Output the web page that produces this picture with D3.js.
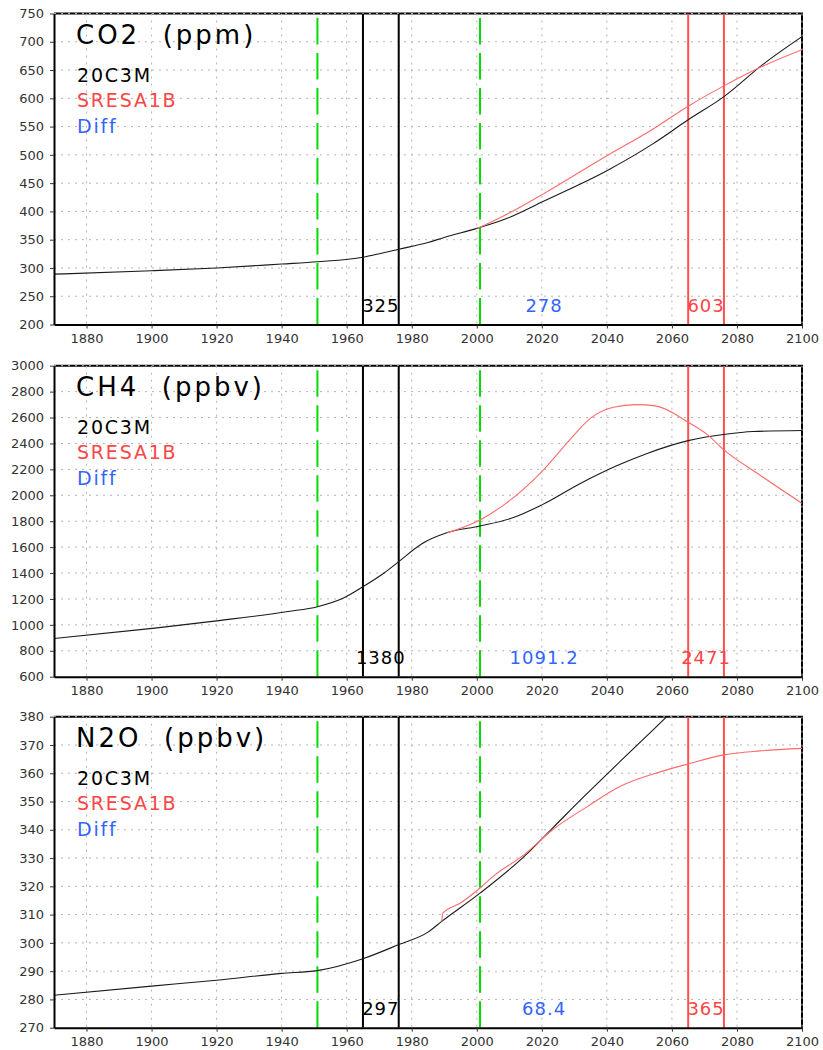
<!DOCTYPE html>
<html>
<head>
<meta charset="utf-8">
<script src="https://cdn.jsdelivr.net/npm/d3@7"></script>
<style>
  body { margin: 0; background: #fff; }
  svg { display: block; font-family: "DejaVu Sans", sans-serif; }
</style>
</head>
<body>
<script>
// ---------------- data ----------------
const xTickYears = [1880, 1900, 1920, 1940, 1960, 1980, 2000, 2020, 2040, 2060, 2080, 2100];

const panelTitles = ["CO2  (ppm)", "CH4  (ppbv)", "N2O  (ppbv)"];
const legendLabels = ["20C3M", "SRESA1B", "Diff"];

const co2Ticks = [200, 250, 300, 350, 400, 450, 500, 550, 600, 650, 700, 750];
const ch4Ticks = [600, 800, 1000, 1200, 1400, 1600, 1800, 2000, 2200, 2400, 2600, 2800, 3000];
const n2oTicks = [270, 280, 290, 300, 310, 320, 330, 340, 350, 360, 370, 380];

// 20C3M (black) series
const co2Years20C = [1870, 1900, 1920, 1940, 1951, 1965, 1970, 1976, 1985, 1990, 2000, 2009, 2020.5, 2040, 2054, 2065, 2076, 2088, 2100];
const co2Vals20C  = [289, 295, 300, 307, 311, 319, 325, 333, 345, 354, 370, 387, 418, 472, 519, 562, 603, 660, 709];
// SRESA1B (red) series
const co2YearsA1B = [2000, 2004, 2010, 2020.5, 2040, 2054, 2065, 2076, 2088, 2100];
const co2ValsA1B  = [370, 380, 397, 431, 498.5, 545, 586, 622, 657, 686];

const ch4Years20C = [1870, 1901, 1920, 1942, 1951, 1959, 1965, 1971.5, 1976, 1983, 1991, 2001, 2011.5, 2020, 2032, 2043, 2052.6, 2065, 2076.4, 2085, 2100];
const ch4Vals20C  = [895, 975, 1031, 1103, 1140, 1207, 1294, 1400, 1488, 1624, 1712, 1763, 1830, 1926, 2093, 2227, 2325, 2422, 2471, 2492, 2500];
const ch4YearsA1B = [1991, 2001, 2009, 2020, 2029, 2035, 2042, 2049, 2055, 2065, 2071, 2076, 2087, 2100];
const ch4ValsA1B  = [1712, 1810, 1938, 2183, 2440, 2595, 2680, 2700, 2690, 2564, 2466, 2350, 2157, 1938];

const n2oYears20C = [1870, 1900, 1920, 1940, 1951, 1965, 1976, 1985, 1989.2, 2001, 2014.6, 2023.3, 2033, 2044, 2054.7, 2075, 2100];
const n2oVals20C  = [281.5, 284.7, 286.8, 289.2, 290.2, 294.4, 299.4, 303.8, 307.6, 317.6, 330.6, 340.6, 351.8, 364.1, 375.9, 398, 420];
const n2oYearsA1B = [1989.2, 1989.6, 1995, 2001, 2005, 2014.6, 2023.3, 2034, 2044, 2055, 2065, 2076, 2087, 2100];
const n2oValsA1B  = [307.6, 310.6, 314.1, 319.4, 323.5, 331.2, 340, 348.2, 355.3, 360, 363.3, 366.5, 367.9, 368.8];

// period markers (years)
const greenMarkers = [1951, 2001];
const histPeriod = [1965, 1976];
const futurePeriod = [2065, 2076];
const diffLabelYear = 2020.7;

// annotation values
const histMeans = ["325", "1380", "297"];
const diffVals = ["278", "1091.2", "68.4"];
const futureMeans = ["603", "2471", "365"];

// ---------------- drawing ----------------
const W = 823, H = 1050;
const BLACK = "#000", RED = "#fa4646", REDLINE = "#ff6a6a", BLUE = "#3264ff", GREEN = "#00dc00";

const panels = [
  { title: panelTitles[0], ticks: co2Ticks, h: [co2Years20C, co2Vals20C], f: [co2YearsA1B, co2ValsA1B], top: 13.5 },
  { title: panelTitles[1], ticks: ch4Ticks, h: [ch4Years20C, ch4Vals20C], f: [ch4YearsA1B, ch4ValsA1B], top: 365.7 },
  { title: panelTitles[2], ticks: n2oTicks, h: [n2oYears20C, n2oVals20C], f: [n2oYearsA1B, n2oValsA1B], top: 716.7 }
];
const PH = 311;

const svg = d3.select("body").append("svg").attr("width", W).attr("height", H);
const x = d3.scaleLinear().domain([1870, 2100]).range([54, 802]);

panels.forEach((p, i) => {
  const top = p.top, bottom = top + PH;
  const y = d3.scaleLinear().domain([p.ticks[0], p.ticks[p.ticks.length - 1]]).range([bottom, top]);
  const g = svg.append("g");

  const clipId = "clip" + i;
  g.append("clipPath").attr("id", clipId).append("rect")
    .attr("x", x.range()[0]).attr("y", top).attr("width", x.range()[1] - x.range()[0]).attr("height", PH);

  // top/right frame
  g.append("path").attr("d", `M${x.range()[0]},${top}H${x.range()[1]}V${bottom}`)
    .attr("fill", "none").attr("stroke", "#000").attr("stroke-width", 2);

  // grid
  const grid = g.append("g").attr("stroke", "#b4b4b4").attr("stroke-width", 1).attr("stroke-dasharray", "2,5");
  grid.selectAll("line.v").data(xTickYears).join("line")
    .attr("x1", d => x(d)).attr("x2", d => x(d)).attr("y1", top).attr("y2", bottom);
  grid.selectAll("line.h").data(p.ticks.slice(1)).join("line")
    .attr("x1", x.range()[0]).attr("x2", x.range()[1]).attr("y1", d => y(d)).attr("y2", d => y(d));

  // vertical markers
  const mk = g.append("g").attr("clip-path", `url(#${clipId})`);
  mk.selectAll("line.g").data(greenMarkers).join("line")
    .attr("x1", d => x(d)).attr("x2", d => x(d)).attr("y1", top).attr("y2", bottom)
    .attr("stroke", GREEN).attr("stroke-width", 2)
    .attr("stroke-dasharray", "26.5,8.5").attr("stroke-dashoffset", 30.5);
  mk.selectAll("line.b").data(histPeriod).join("line")
    .attr("x1", d => x(d)).attr("x2", d => x(d)).attr("y1", top).attr("y2", bottom)
    .attr("stroke", "#000").attr("stroke-width", 2);
  mk.selectAll("line.r").data(futurePeriod).join("line")
    .attr("x1", d => x(d)).attr("x2", d => x(d)).attr("y1", top).attr("y2", bottom)
    .attr("stroke", "#ff5050").attr("stroke-width", 2);

  // curves
  const line = d3.line().x(d => x(d[0])).y(d => y(d[1])).curve(d3.curveMonotoneX);
  const curves = g.append("g").attr("clip-path", `url(#${clipId})`).attr("fill", "none");
  curves.append("path").attr("d", line(d3.zip(p.h[0], p.h[1])))
    .attr("stroke", "#1a1a1a").attr("stroke-width", 1.1);
  curves.append("path").attr("d", line(d3.zip(p.f[0], p.f[1])))
    .attr("stroke", REDLINE).attr("stroke-width", 1.1);

  // axes
  const ay = g.append("g").attr("transform", `translate(${x.range()[0]},0)`)
    .call(d3.axisLeft(y).tickValues(p.ticks).tickSize(4).tickSizeOuter(0).tickPadding(6).tickFormat(d3.format("d")));
  const ax = g.append("g").attr("transform", `translate(0,${bottom})`)
    .call(d3.axisBottom(x).tickValues(xTickYears).tickSize(4).tickSizeOuter(0).tickPadding(5).tickFormat(d3.format("d")));
  [ay, ax].forEach(a => {
    a.select(".domain").attr("stroke", "#000").attr("stroke-width", 2);
    a.selectAll(".tick line").attr("stroke", "#333");
    a.selectAll(".tick text").attr("fill", "#333").attr("font-size", 13)
      .attr("font-family", "DejaVu Sans, sans-serif");
  });

  // title & legend
  g.append("text").attr("x", 76).attr("y", top + 30.5).attr("font-size", 26)
    .attr("letter-spacing", 3).attr("fill", "#000").style("white-space", "pre").text(p.title);
  const legColors = [BLACK, RED, BLUE];
  legendLabels.forEach((t, k) => {
    g.append("text").attr("x", 77).attr("y", top + 68 + k * 25.5).attr("font-size", 19)
      .attr("letter-spacing", 1.8).attr("fill", legColors[k]).text(t);
  });

  // period annotations
  const ann = [
    [histMeans[i], d3.mean(histPeriod), BLACK],
    [diffVals[i], diffLabelYear, BLUE],
    [futureMeans[i], d3.mean(futurePeriod), RED]
  ];
  ann.forEach(([t, yr, c]) => {
    g.append("text").attr("x", x(yr)).attr("y", bottom - 13).attr("text-anchor", "middle")
      .attr("font-size", 18).attr("letter-spacing", 1).attr("fill", c).text(t);
  });
});
</script>
</body>
</html>
